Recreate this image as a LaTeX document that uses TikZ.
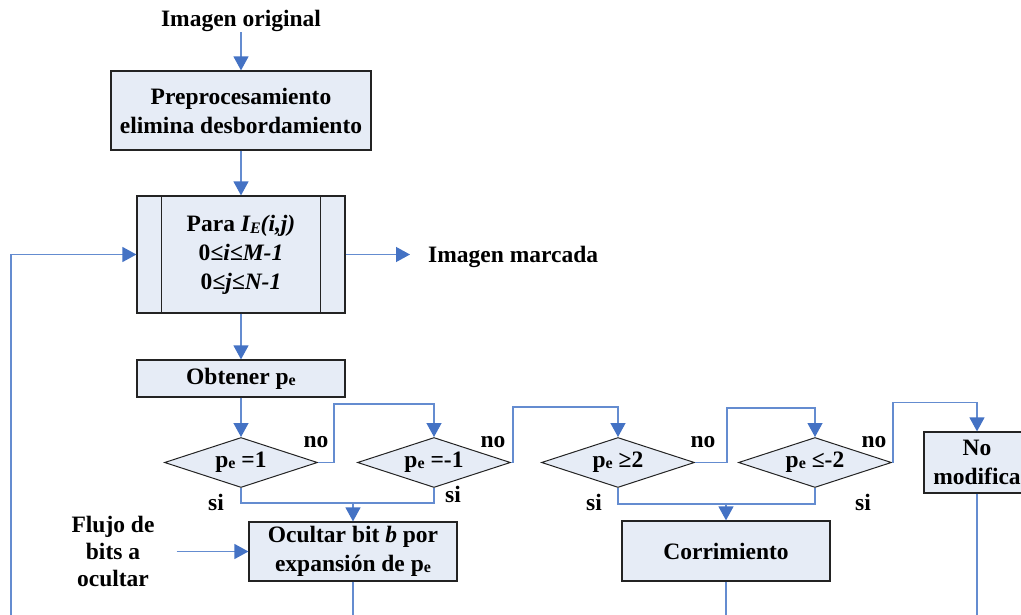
\documentclass[tikz,border=0pt]{standalone}
\usepackage{fontspec}
\setmainfont{Liberation Serif}
\usetikzlibrary{arrows.meta,shapes.geometric}
\definecolor{boxfill}{RGB}{230,236,246}
\definecolor{linkblue}{RGB}{100,140,208}
\definecolor{tipblue}{RGB}{68,114,196}
\definecolor{edgegray}{RGB}{35,35,35}
% p with a small subscript-like e
\newcommand{\pesub}{p\raisebox{-1pt}{\fontsize{16}{16}\selectfont e}}
\begin{document}
\begin{tikzpicture}[x=1pt,y=-1pt,
  every node/.style={font=\fontsize{23.5}{29}\selectfont\bfseries},
  procbox/.style={draw=edgegray, line width=1.2pt, fill=boxfill, inner sep=0pt, align=center},
  decision/.style={diamond, draw=edgegray, line width=1pt, fill=boxfill, inner sep=0pt,
    aspect=3.06, minimum width=153pt, minimum height=50pt},
  link/.style={draw=linkblue, line width=1.3pt},
  flow/.style={link, -{Triangle[length=14pt,width=15pt,color=tipblue,fill=tipblue]}},
  lbl/.style={anchor=base, inner sep=0pt}
]
\useasboundingbox (0,0) rectangle (1021,615);
\clip (0,0) rectangle (1021,615);

% main column
\node[lbl] (src) at (241,27) {Imagen original};
\node[procbox, minimum width=260pt, minimum height=79pt] (pre) at (241,110.5)
  {Preprocesamiento\\elimina desbordamiento};
\node[procbox, minimum width=208pt, minimum height=117pt] (loop) at (241,254.5)
  {Para \textit{I\raisebox{-2pt}{\fontsize{16}{16}\selectfont E}(i,j)}\\0\textit{≤i≤M-1}\\0\textit{≤j≤N-1}};
\draw[edgegray, line width=1.2pt] ([xshift=25pt]loop.north west) -- ([xshift=25pt]loop.south west);
\draw[edgegray, line width=1.2pt] ([xshift=-25pt]loop.north east) -- ([xshift=-25pt]loop.south east);
\node[lbl, anchor=base west] (out) at (428,262) {Imagen marcada};
\node[procbox, minimum width=208pt, minimum height=37pt] (get) at (241,378.5) {Obtener \pesub};

% decisions
\node[decision] (d1) at (241,462.5) {\pesub{} =1};
\node[decision] (d2) at (434,462.5) {\pesub{} =-1};
\node[decision] (d3) at (618,462.5) {\pesub{} ≥2};
\node[decision] (d4) at (815,462.5) {\pesub{} ≤-2};
\node[procbox, minimum width=106pt, minimum height=61pt] (keep) at (977,462.5) {No\\modifica};

% actions
\node[procbox, minimum width=208pt, minimum height=59pt] (hide) at (353,551.5)
  {Ocultar bit \textit{b} por\\expansión de \pesub};
\node[procbox, minimum width=208pt, minimum height=60pt] (shift) at (726,551) {Corrimiento};
\node[align=center, inner sep=0pt, font=\fontsize{23.5}{27}\selectfont\bfseries] (bits) at (113,551)
  {Flujo de\\bits a\\ocultar};

% branch labels
\node[lbl] (no1) at (316,447) {no};
\node[lbl] (no2) at (493,447) {no};
\node[lbl] (no3) at (703,447) {no};
\node[lbl] (no4) at (874,447) {no};
\node[lbl] (si1) at (216,510) {si};
\node[lbl] (si2) at (453,502) {si};
\node[lbl] (si3) at (594,510) {si};
\node[lbl] (si4) at (863,510) {si};

% connectors
\draw[flow] (src.south) -- (pre.north);
\draw[flow] (pre.south) -- (loop.north);
\draw[flow, shorten >=18pt] (loop.east) -- (loop.east -| out.west);
\coordinate (ret) at (11,615);
\draw[flow] (ret) |- (loop.west);
\draw[flow] (loop.south) -- (get.north);
\draw[flow] (get.south) -- (d1.north);

\draw[flow] (d1.east) -- ++(16,0) |- ([yshift=33pt]d2.north) -- (d2.north);
\draw[flow] (d2.east) -- ++(2,0) |- ([yshift=30pt]d3.north) -- (d3.north);
\draw[flow] (d3.east) -- ++(32,0) |- ([yshift=29pt]d4.north) -- (d4.north);
\draw[flow] (d4.east) -- ++(1,0) |- ([yshift=29pt]keep.north) -- (keep.north);

\path ([yshift=-15pt]d1.south) coordinate (s1);
\draw[link] (d1.south) -- (s1) -| (d2.south);
\draw[flow] (s1 -| hide.north) -- (hide.north);
\path ([yshift=-16pt]d3.south) coordinate (s3);
\draw[link] (d3.south) -- (s3) -| (d4.south);
\draw[flow] (s3 -| shift.north) -- (shift.north);

\draw[flow, shorten <=22pt] (hide.west -| bits.east) -- (hide.west);

\draw[link] (hide.south) -- ++(0,40);
\draw[link] (shift.south) -- ++(0,40);
\draw[link] (keep.south) -- ++(0,130);
\end{tikzpicture}
\end{document}
